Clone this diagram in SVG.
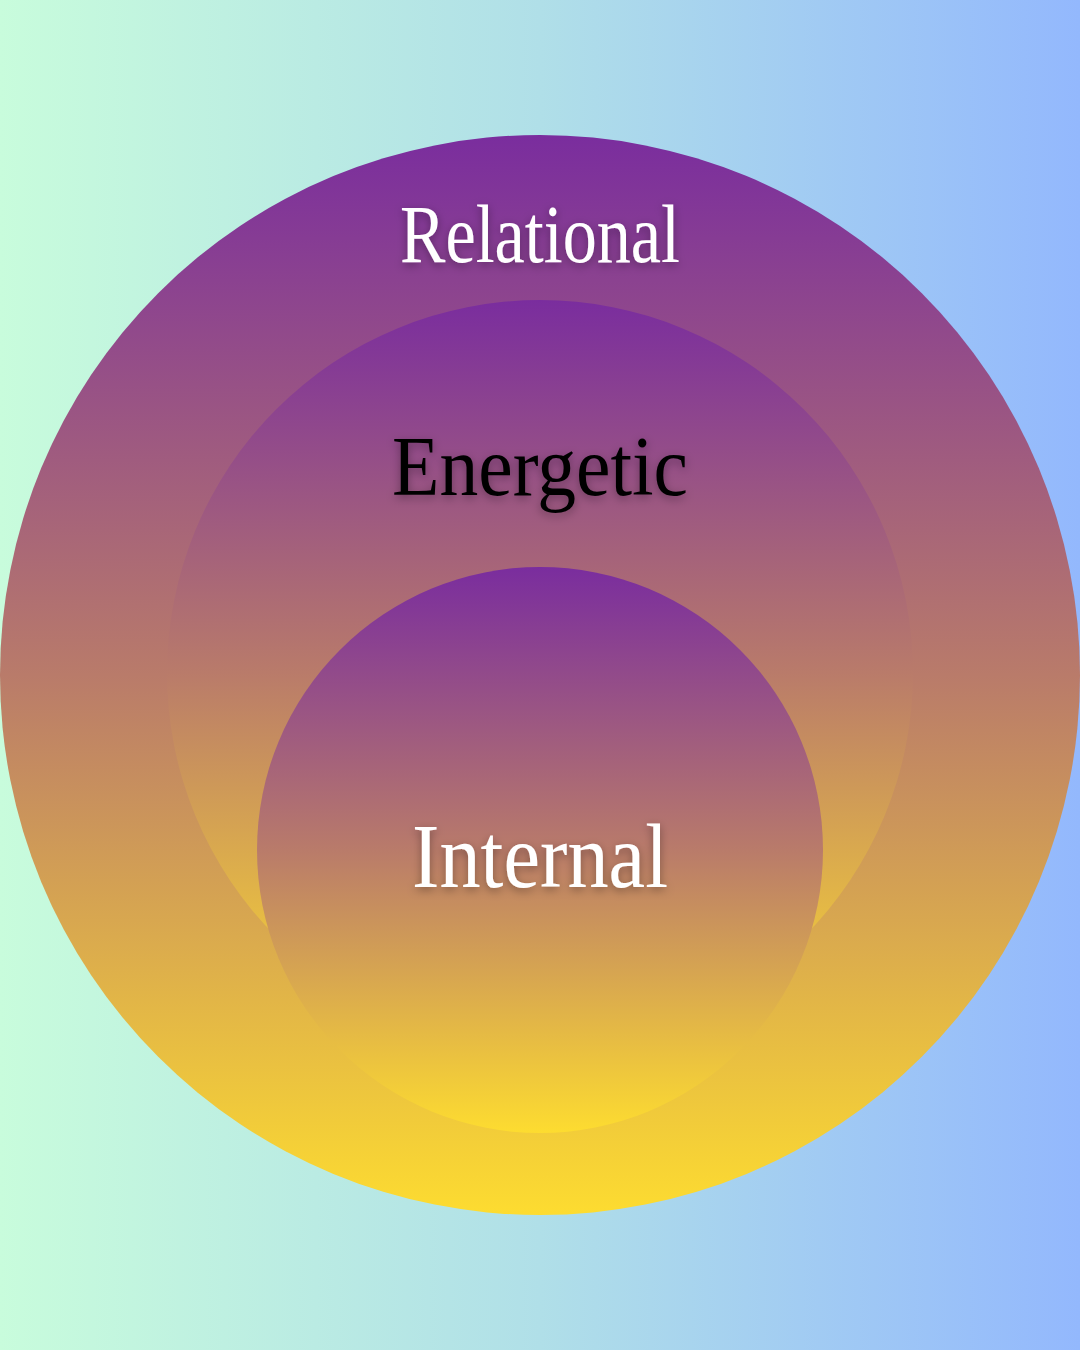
<svg xmlns="http://www.w3.org/2000/svg" width="1080" height="1350" viewBox="0 0 1080 1350">
  <defs>
    <linearGradient id="bg" x1="0" y1="0" x2="1" y2="0">
      <stop offset="0" stop-color="#c8fcdc"/>
      <stop offset="0.5" stop-color="#b0dfe8"/>
      <stop offset="1" stop-color="#93b8fd"/>
    </linearGradient>
    <linearGradient id="orb" x1="0" y1="0" x2="0" y2="1">
      <stop offset="0" stop-color="#7a2d9e"/>
      <stop offset="0.5" stop-color="#b97b6a"/>
      <stop offset="1" stop-color="#fddc30"/>
    </linearGradient>
    <filter id="shadow" x="-20%" y="-30%" width="140%" height="160%">
      <feDropShadow dx="0" dy="3" stdDeviation="5" flood-color="#000" flood-opacity="0.35"/>
    </filter>
  </defs>
  <style>
    .lbl { font-family: "Liberation Serif", "DejaVu Serif", serif; text-anchor: start; }
    .white { fill: #ffffff; }
    .black { fill: #000000; }
  </style>
  <rect x="0" y="0" width="1080" height="1350" fill="url(#bg)"/>
  <g id="relational">
    <circle cx="540" cy="675" r="540" fill="url(#orb)"/>
    <text class="lbl white" x="400" y="262" font-size="82" textLength="280" lengthAdjust="spacingAndGlyphs" filter="url(#shadow)">Relational</text>
  </g>
  <g id="energetic">
    <circle cx="540" cy="673" r="373" fill="url(#orb)"/>
    <text class="lbl black" x="392" y="495" font-size="84" textLength="296" lengthAdjust="spacingAndGlyphs" filter="url(#shadow)">Energetic</text>
  </g>
  <g id="internal">
    <circle cx="540" cy="850" r="283" fill="url(#orb)"/>
    <text class="lbl white" x="412" y="887" font-size="92" textLength="256" lengthAdjust="spacingAndGlyphs" filter="url(#shadow)">Internal</text>
  </g>
  <g id="connectors"/>
</svg>
